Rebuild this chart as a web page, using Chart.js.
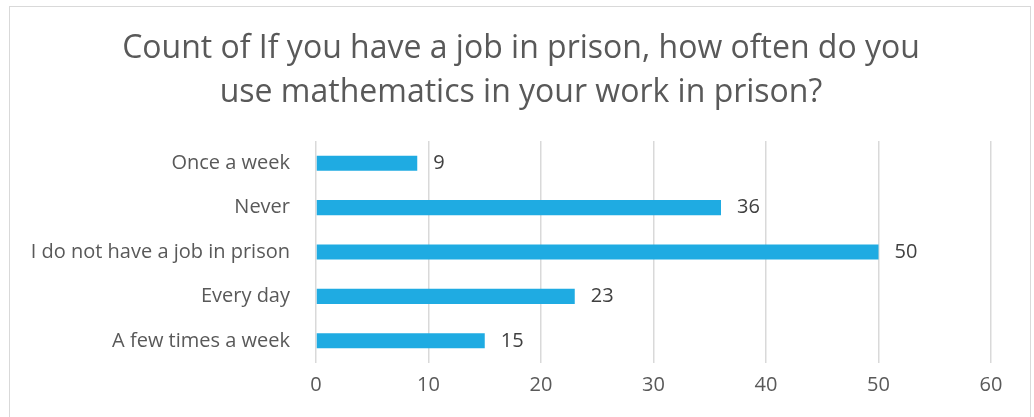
<!DOCTYPE html>
<html>
<head>
<meta charset="utf-8">
<script src="https://cdn.jsdelivr.net/npm/chart.js@4"></script>
<style>
  html, body { margin: 0; padding: 0; background: #fff; overflow: hidden; }
  #wrap { position: relative; width: 1034px; height: 417px; }
  #frame { position: absolute; left: 9px; top: 6px; width: 1022px; height: 430px; border: 1.5px solid #d9d9d9; box-sizing: border-box; }
  canvas { position: absolute; left: 0; top: 0; }
</style>
</head>
<body>
<div id="wrap">
  <div id="frame"></div>
  <canvas id="chart" width="1034" height="417"></canvas>
</div>
<script>
// 데이터
const categories = ['Once a week', 'Never', 'I do not have a job in prison', 'Every day', 'A few times a week'];
const counts = [9, 36, 50, 23, 15];
const titleLines = ['Count of If you have a job in prison, how often do you', 'use mathematics in your work in prison?'];
const xMin = 0, xMax = 60, xStep = 10;

const fontFamily = '"Open Sans", "DejaVu Sans", sans-serif';

// 제목 (차트 박스 중앙 기준)
const boxTitle = {
    id: 'boxTitle',
    afterDraw(chart) {
        const ctx = chart.ctx;
        ctx.save();
        ctx.font = '32px ' + fontFamily;
        ctx.fillStyle = '#595959';
        ctx.textAlign = 'center';
        ctx.textBaseline = 'middle';
        titleLines.forEach((line, i) => {
            ctx.fillText(line, 521, 49 + i * 44);
        });
        ctx.restore();
    }
};

// 막대 끝 값 표시
const valueLabels = {
    id: 'valueLabels',
    afterDatasetsDraw(chart) {
        const ctx = chart.ctx;
        const meta = chart.getDatasetMeta(0);
        ctx.save();
        ctx.font = '20px ' + fontFamily;
        ctx.fillStyle = '#404040';
        ctx.textAlign = 'left';
        ctx.textBaseline = 'middle';
        meta.data.forEach((bar, i) => {
            ctx.fillText(String(counts[i]), bar.x + 16, bar.y);
        });
        ctx.restore();
    }
};

const ctx = document.getElementById('chart').getContext('2d');
new Chart(ctx, {
    type: 'bar',
    data: {
        labels: categories,
        datasets: [{
            data: counts,
            backgroundColor: '#1fabe2',
            borderWidth: 0,
            barPercentage: 0.68,
            categoryPercentage: 0.5
        }]
    },
    options: {
        indexAxis: 'y',
        responsive: false,
        animation: false,
        layout: { padding: { left: 0, right: 43, top: 141, bottom: 0 } },
        plugins: {
            legend: { display: false },
            tooltip: { enabled: false },
            title: { display: false }
        },
        scales: {
            x: {
                min: xMin,
                max: xMax,
                ticks: { stepSize: xStep, color: '#595959', font: { family: fontFamily, size: 20 }, padding: 10 },
                grid: { color: '#d9d9d9', lineWidth: 1.5, drawTicks: false },
                border: { display: false },
                afterFit(scale) { scale.height = 54; }
            },
            y: {
                ticks: { color: '#595959', font: { family: fontFamily, size: 20 }, padding: 18 },
                grid: { display: false },
                border: { display: false },
                afterFit(scale) { scale.width = 316; }
            }
        }
    },
    plugins: [valueLabels, boxTitle]
});
</script>
</body>
</html>
